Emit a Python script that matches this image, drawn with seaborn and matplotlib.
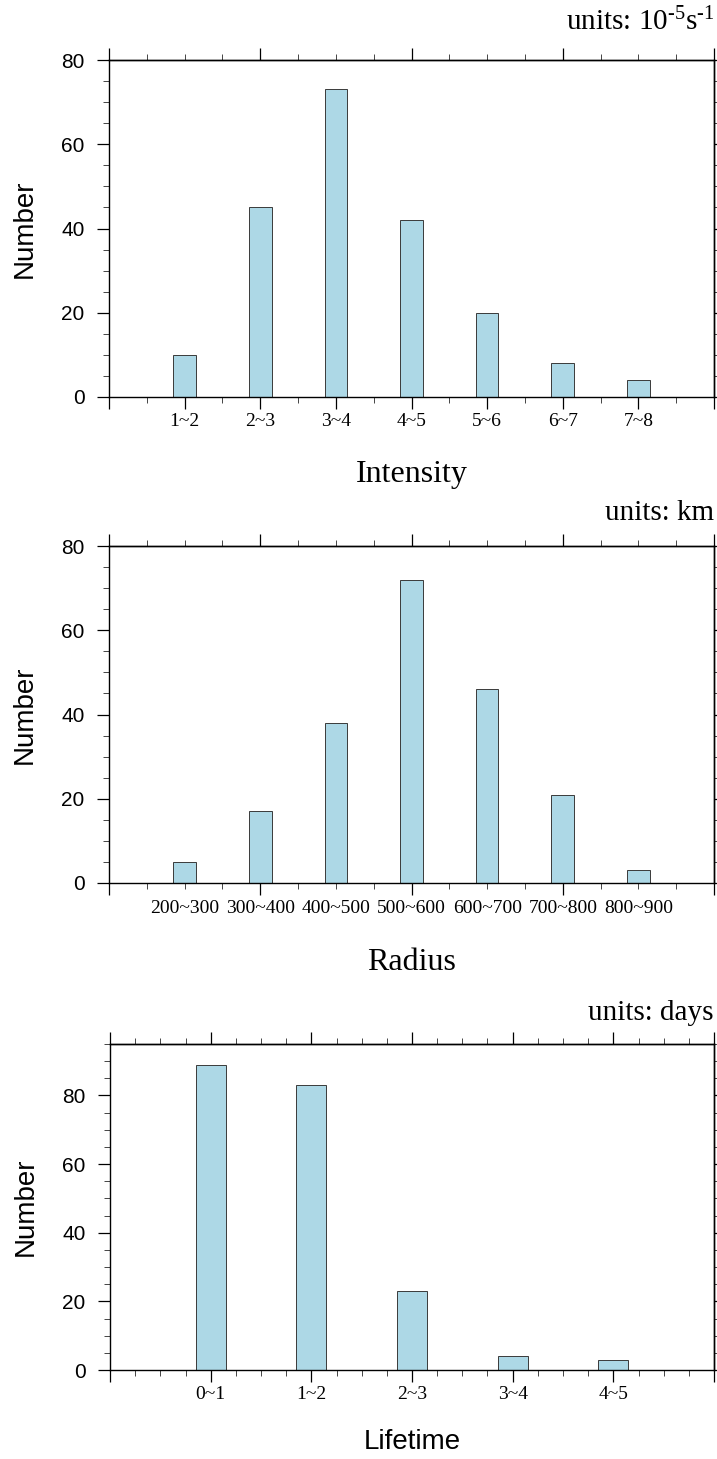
import numpy as np
import pandas as pd
import matplotlib
matplotlib.use("Agg")
import matplotlib.pyplot as plt
import seaborn as sns
from matplotlib.ticker import MultipleLocator, NullFormatter, NullLocator

# ---------------- data ----------------
intensity_cats = ["1~2", "2~3", "3~4", "4~5", "5~6", "6~7", "7~8"]
intensity_vals = [10, 45, 73, 42, 20, 8, 4]

radius_cats = ["200~300", "300~400", "400~500", "500~600", "600~700", "700~800", "800~900"]
radius_vals = [5, 17, 38, 72, 46, 21, 3]

lifetime_cats = ["0~1", "1~2", "2~3", "3~4", "4~5"]
lifetime_vals = [89, 83, 23, 4, 3]

# ---------------- style ----------------
sns.set_style("ticks")
SANS = ["Liberation Sans", "DejaVu Sans"]
SERIF = ["Liberation Serif", "DejaVu Serif"]
plt.rcParams["font.family"] = SANS
plt.rcParams["mathtext.fontset"] = "custom"
plt.rcParams["mathtext.rm"] = "Liberation Serif"
plt.rcParams["axes.linewidth"] = 1.0
plt.rcParams["axes.edgecolor"] = "black"
plt.rcParams["text.color"] = "black"
plt.rcParams["axes.labelcolor"] = "black"
plt.rcParams["xtick.color"] = "black"
plt.rcParams["ytick.color"] = "black"
plt.rcParams["xtick.labelcolor"] = "black"
plt.rcParams["ytick.labelcolor"] = "black"

BAR = "#ADD8E6"
EDGE = "#3a3a3a"
MAJ_LEN, MIN_LEN = 8.6, 4.3
XT_SIZE = 14

W, H = 717, 1459
fig = plt.figure(figsize=(W / 100, H / 100), dpi=100)


def make_axes(l, t, r, b):
    return fig.add_axes([l / W, 1 - b / H, (r - l) / W, (b - t) / H])


def tick_style(obj, axis):
    obj.tick_params(axis=axis, which="major", direction="out", length=MAJ_LEN,
                    width=0.9, color="black", labelcolor="black")
    obj.tick_params(axis=axis, which="minor", direction="out", length=MIN_LEN,
                    width=0.7, color="#444444")


def panel(ax, cats, vals, xmax, ymax, top_major, minor_step, bottom_mode,
          xlabel, xlabel_family, xlabel_off, units, units_off, ax_px):
    w_px, h_px = ax_px
    pos = np.arange(1, len(cats) + 1)
    df = pd.DataFrame({"pos": pos, "count": vals})
    sns.barplot(data=df, x="pos", y="count", native_scale=True, width=0.3,
                color=BAR, saturation=1, edgecolor=EDGE, linewidth=0.7, ax=ax)
    ax.set_xlim(0, xmax)
    ax.set_ylim(0, ymax)

    # y axis (left)
    ax.yaxis.set_major_locator(MultipleLocator(20))
    ax.yaxis.set_minor_locator(MultipleLocator(5))
    tick_style(ax, "y")
    ax.tick_params(axis="y", which="major", pad=9, labelsize=15)
    ax.tick_params(top=False, right=False, which="both")

    # x axis (bottom)
    tick_style(ax, "x")
    if bottom_mode == "labelled":
        ticks = np.arange(0, xmax + 1)
        labels = [""] + cats + [""] * (len(ticks) - len(cats) - 1)
        ax.set_xticks(ticks, labels, fontfamily=SERIF, fontsize=XT_SIZE)
        ax.xaxis.set_minor_locator(MultipleLocator(minor_step))
        ax.tick_params(axis="x", which="major", pad=3)
    else:
        ax.xaxis.set_major_locator(MultipleLocator(top_major))
        ax.xaxis.set_major_formatter(NullFormatter())
        ax.xaxis.set_minor_locator(MultipleLocator(minor_step))
        lab = ax.secondary_xaxis("bottom")
        lab.set_xticks(pos, cats, fontfamily=SERIF, fontsize=XT_SIZE)
        lab.xaxis.set_minor_locator(NullLocator())
        lab.tick_params(axis="x", which="major", length=0, pad=12,
                        labelcolor="black")
        lab.spines["bottom"].set_visible(False)

    # top ticks
    top = ax.secondary_xaxis("top")
    top.xaxis.set_major_locator(MultipleLocator(top_major))
    top.xaxis.set_minor_locator(MultipleLocator(minor_step))
    top.xaxis.set_major_formatter(NullFormatter())
    tick_style(top, "x")

    # right ticks
    right = ax.secondary_yaxis("right")
    right.yaxis.set_major_locator(MultipleLocator(20))
    right.yaxis.set_minor_locator(MultipleLocator(5))
    right.yaxis.set_major_formatter(NullFormatter())
    tick_style(right, "y")

    ax.set_ylabel("Number", fontsize=20, fontfamily=SANS, color="black")
    ax.yaxis.set_label_coords(-71 / w_px, 0.5)
    ax.set_xlabel(xlabel, fontsize=23 if xlabel_family is SERIF else 20,
                  fontfamily=xlabel_family, color="black")
    ax.xaxis.set_label_coords(0.5, -xlabel_off / h_px)

    ax.text(1.0, 1 + units_off / h_px, units, transform=ax.transAxes,
            ha="right", va="baseline", fontsize=21, fontfamily=SERIF,
            color="black")


ax1 = make_axes(109, 60, 714, 397)
panel(ax1, intensity_cats, intensity_vals, 8, 80, 2, 0.5, "labelled",
      "Intensity", SERIF, 63,
      "units: 10$\\mathregular{^{\u20105}}$s$\\mathregular{^{\u20101}}$",
      30, (605, 337))

ax2 = make_axes(109, 546, 714, 883)
panel(ax2, radius_cats, radius_vals, 8, 80, 2, 0.5, "auto",
      "Radius", SERIF, 65, "units: km", 26, (605, 337))

ax3 = make_axes(110, 1044, 714, 1370)
panel(ax3, lifetime_cats, lifetime_vals, 6, 95, 1, 0.25, "labelled",
      "Lifetime", SANS, 59, "units: days", 24, (604, 326))

fig.savefig("out.png", dpi=100)
